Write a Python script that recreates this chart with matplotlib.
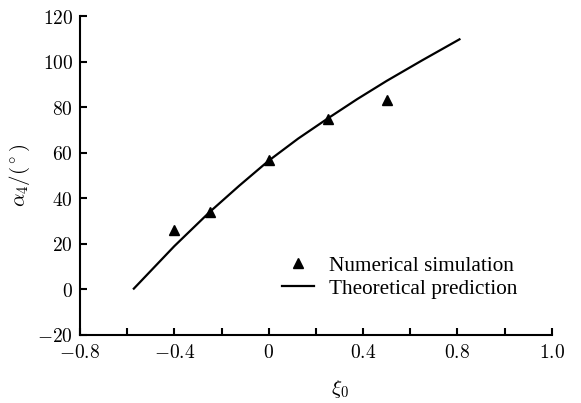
import matplotlib
matplotlib.use("Agg")
import matplotlib.pyplot as plt
from matplotlib.lines import Line2D

plt.rcParams['mathtext.fontset'] = 'cm'

# Numerical simulation (triangles)
sim_x = [-0.4, -0.25, 0.0, 0.25, 0.5]
sim_y = [26.3, 33.9, 57.0, 75.0, 83.2]

# Theoretical prediction (curve)
theo_x = [-0.575, -0.4, -0.25, -0.125, 0.0, 0.125, 0.25, 0.375, 0.5, 0.65, 0.813]
theo_y = [0.0, 19.0, 34.0, 45.5, 56.5, 66.2, 75.0, 83.5, 91.5, 100.5, 110.0]

xticks_major = [-0.8, -0.4, 0.0, 0.4, 0.8, 1.2]
xtick_labels = [r'$-0.8$', r'$-0.4$', r'$0$', r'$0.4$', r'$0.8$', r'$1.0$']
xticks_minor = [-0.6, -0.2, 0.2, 0.6, 1.0]
yticks = [-20, 0, 20, 40, 60, 80, 100, 120]
ytick_labels = [r'$-20$', r'$0$', r'$20$', r'$40$', r'$60$', r'$80$', r'$100$', r'$120$']

fig = plt.figure(figsize=(5.81, 4.03), dpi=100)
ax = fig.add_axes([80/581, 1-335/403, (551.7-80)/581, (335-16)/403])

ax.plot(theo_x, theo_y, color='black', lw=1.6, solid_capstyle='butt',
        solid_joinstyle='round')
ax.plot(sim_x, sim_y, linestyle='none', marker='^', color='black', markersize=7.5)

ax.set_xlim(-0.8, 1.2)
ax.set_ylim(-20, 120)
ax.set_xticks(xticks_major)
ax.set_xticklabels(xtick_labels)
ax.set_xticks(xticks_minor, minor=True)
ax.set_yticks(yticks)
ax.set_yticklabels(ytick_labels)

for s in ['top', 'right']:
    ax.spines[s].set_visible(False)
for s in ['left', 'bottom']:
    ax.spines[s].set_linewidth(1.5)

ax.tick_params(axis='both', which='both', direction='in', length=5, width=1.5,
               labelsize=14)
ax.tick_params(axis='y', pad=5)
ax.tick_params(axis='x', pad=6)

ax.set_ylabel(r'$\alpha_4/(^\circ)$', fontsize=15, labelpad=4)
ax.set_xlabel(r'$\xi_0$', fontsize=15)
ax.xaxis.set_label_coords((340-80)/(551.7-80), -0.135)

handles = [Line2D([], [], linestyle='none', marker='^', color='black', markersize=7.5),
           Line2D([], [], color='black', lw=1.6)]
ax.legend(handles, ['Numerical simulation', 'Theoretical prediction'],
          frameon=False, loc='lower right', bbox_to_anchor=(0.95, 0.08),
          prop={'family': 'Liberation Serif', 'size': 15.3},
          handlelength=1.5, handletextpad=0.7, labelspacing=0.15, borderpad=0)

fig.savefig('out.png', dpi=100)
